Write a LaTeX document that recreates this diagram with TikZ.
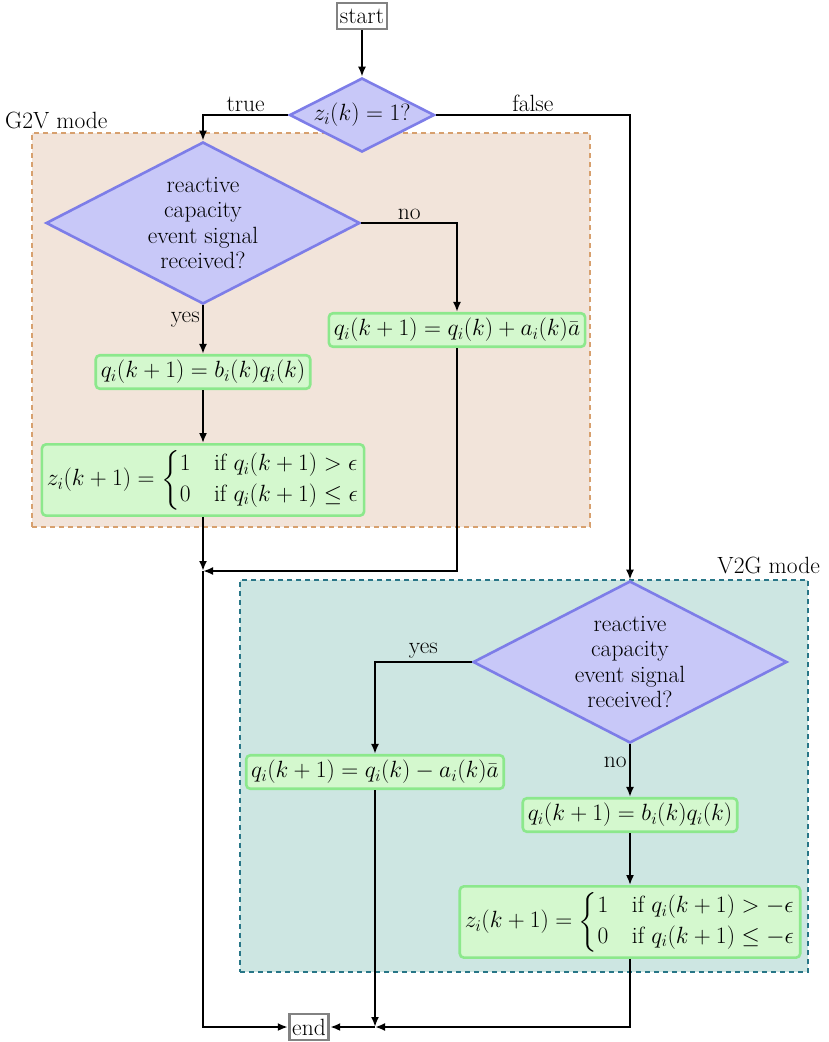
\RequirePackage{fix-cm}
\documentclass[tikz,border=0pt]{standalone}
\usepackage{amsmath}
\usetikzlibrary{shapes.geometric,arrows.meta}
\definecolor{diafill}{RGB}{200,200,248}
\definecolor{diadraw}{RGB}{125,125,232}
\definecolor{boxfill}{RGB}{212,248,206}
\definecolor{boxdraw}{RGB}{140,232,140}
\definecolor{gvfill}{RGB}{242,228,218}
\definecolor{gvdraw}{RGB}{215,160,110}
\definecolor{vgfill}{RGB}{205,230,226}
\definecolor{vgdraw}{RGB}{40,118,135}
\definecolor{termdraw}{RGB}{130,130,130}
\tikzset{
  decision/.style={diamond, draw=diadraw, fill=diafill, line width=2.6pt, inner sep=0pt, align=center},
  procbox/.style={rectangle, rounded corners=4pt, draw=boxdraw, fill=boxfill, line width=2.6pt, inner sep=5pt},
  term/.style={rectangle, draw=termdraw, fill=white, line width=2.8pt, inner sep=3pt, minimum height=26pt},
  region/.style={rectangle, line width=2.4pt, dash pattern=on 5pt off 4pt, inner sep=0pt},
  arr/.style={line width=2.6pt, -{Latex[length=10pt,width=8pt]}},
  lbl/.style={inner sep=2pt}
}
\begin{document}
\begin{tikzpicture}[x=1pt,y=-1pt,font=\fontsize{23.5}{25.5}\selectfont]
\useasboundingbox (0,0) rectangle (828,1042);
% regions
\node[region, draw=gvdraw, fill=gvfill, minimum width=558pt, minimum height=394pt] (g2v) at (311,330) {};
\node[region, draw=vgdraw, fill=vgfill, minimum width=568pt, minimum height=392pt] (v2g) at (524,776) {};
\node[lbl, anchor=west] (g2vl) at (3,120) {G2V mode};
\node[lbl, anchor=east] (v2gl) at (822,565) {V2G mode};
% nodes
\node[term] (start) at (362,16) {start};
\node[decision, aspect=1.96, minimum width=145pt, minimum height=74pt] (d1) at (362,115) {$z_i(k)=1?$};
\node[decision, aspect=1.94, minimum width=314pt, minimum height=162pt] (d2) at (203,223) {reactive\\capacity\\event signal\\received?};
\node[procbox] (qa1) at (457,330) {$q_i(k+1)=q_i(k)+a_i(k)\bar{a}$};
\node[procbox] (qb1) at (203,372) {$q_i(k+1)=b_i(k)q_i(k)$};
\node[procbox] (z1) at (203,480) {$z_i(k+1)=\begin{cases}1 & \text{if } q_i(k+1)>\epsilon\\ 0 & \text{if } q_i(k+1)\le\epsilon\end{cases}$};
\node[decision, aspect=1.94, minimum width=314pt, minimum height=162pt] (d3) at (630,662) {reactive\\capacity\\event signal\\received?};
\node[procbox] (qm2) at (375,772) {$q_i(k+1)=q_i(k)-a_i(k)\bar{a}$};
\node[procbox] (qb2) at (630,815) {$q_i(k+1)=b_i(k)q_i(k)$};
\node[procbox] (z2) at (630,922) {$z_i(k+1)=\begin{cases}1 & \text{if } q_i(k+1)>-\epsilon\\ 0 & \text{if } q_i(k+1)\le-\epsilon\end{cases}$};
\node[term] (end) at (309,1027) {end};
\coordinate (j1) at (203,571);
\coordinate (j2) at (375,1027);
% connectors
\draw[arr] (start) -- (d1);
\draw[arr] (d1.west) -| node[pos=0.25, above, lbl] {true} (d2.north);
\draw[arr] (d1.east) -| node[pos=0.25, above, lbl] {false} (d3.north);
\draw[arr] (d2.east) -| node[pos=0.25, above, lbl] {no} (qa1.north);
\draw[arr] (d2.south) -- node[pos=0.3, left, lbl] {yes} (qb1.north);
\draw[arr] (qb1) -- (z1);
\draw[arr] (z1.south) -- (j1);
\draw[arr] (qa1.south) |- (j1);
\draw[arr] (j1) |- (end.west);
\draw[arr] (d3.west) -| node[pos=0.25, above, lbl] {yes} (qm2.north);
\draw[arr] (d3.south) -- node[pos=0.35, left, lbl] {no} (qb2.north);
\draw[arr] (qb2) -- (z2);
\draw[arr] (qm2.south) -- (j2);
\draw[arr] (z2.south) |- (j2);
\draw[arr] (j2) -- (end.east);
\end{tikzpicture}
\end{document}
